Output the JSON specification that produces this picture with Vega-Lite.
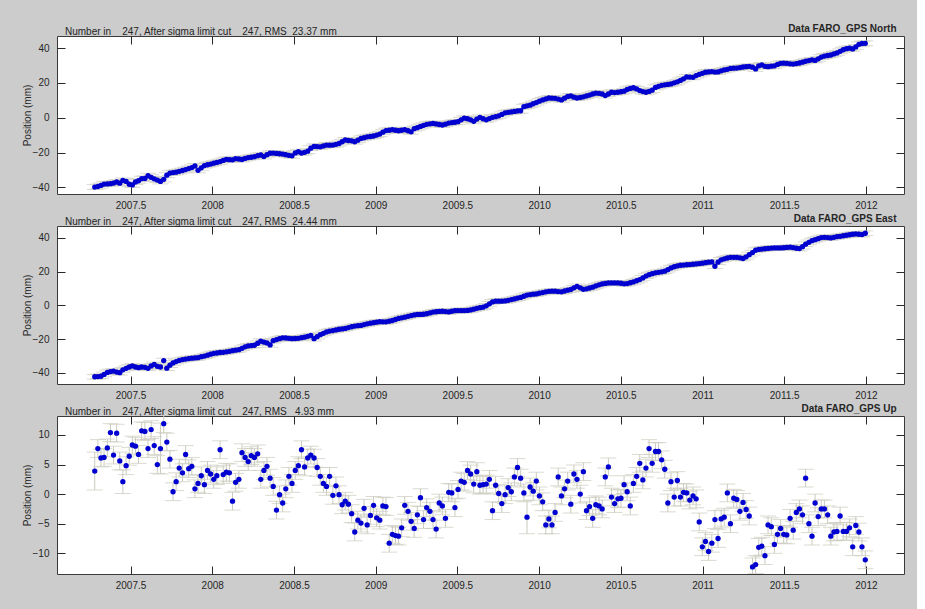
{
  "$schema": "https://vega.github.io/schema/vega-lite/v6.json",
  "background": "#cccccc",
  "padding": {"left": 21, "top": 23, "right": 12, "bottom": 24},
  "spacing": 32,
  "bounds": "flush",
  "config": {
    "font": "Liberation Sans",
    "view": {"stroke": "#3a3a3a", "strokeWidth": 1, "fill": "#ffffff"},
    "axis": {
      "domain": false, "grid": false, "tickColor": "#2a2a2a", "tickSize": -8,
      "labelFont": "Liberation Sans", "labelFontSize": 10, "labelColor": "#262626",
      "titleFont": "Liberation Sans", "titleFontSize": 10, "titleFontWeight": "normal", "titleColor": "#262626",
      "labelOverlap": false, "labelFlush": false
    },
    "title": {"font": "Liberation Sans", "fontSize": 10, "fontWeight": "normal", "color": "#262626"}
  },
  "data": {"values": [
{"t":2007.281,"n":-39.8,"e":-42.4,"u":3.9,"su":3.2,"sh":1.4},
{"t":2007.300,"n":-39.5,"e":-42.3,"u":7.7,"su":1.5,"sh":1.4},
{"t":2007.319,"n":-38.9,"e":-42.1,"u":6.1,"su":1.5,"sh":1.4},
{"t":2007.338,"n":-38.1,"e":-41.0,"u":6.2,"su":1.5,"sh":1.4},
{"t":2007.358,"n":-38.0,"e":-39.8,"u":7.8,"su":1.5,"sh":1.4},
{"t":2007.377,"n":-37.9,"e":-39.3,"u":10.4,"su":1.5,"sh":1.4},
{"t":2007.396,"n":-37.5,"e":-39.0,"u":6.6,"su":1.5,"sh":1.4},
{"t":2007.415,"n":-36.9,"e":-39.6,"u":10.3,"su":1.5,"sh":1.4},
{"t":2007.434,"n":-37.6,"e":-40.0,"u":5.6,"su":1.5,"sh":1.4},
{"t":2007.453,"n":-36.0,"e":-38.3,"u":2.1,"su":2.0,"sh":1.4},
{"t":2007.473,"n":-36.6,"e":-37.4,"u":4.8,"su":1.5,"sh":1.4},
{"t":2007.492,"n":-38.2,"e":-36.6,"u":6.4,"su":1.5,"sh":1.4},
{"t":2007.511,"n":-38.6,"e":-36.0,"u":8.3,"su":1.5,"sh":1.4},
{"t":2007.530,"n":-36.9,"e":-36.6,"u":8.1,"su":1.5,"sh":1.4},
{"t":2007.549,"n":-36.2,"e":-37.0,"u":6.7,"su":1.5,"sh":1.4},
{"t":2007.568,"n":-35.0,"e":-36.6,"u":10.7,"su":1.5,"sh":1.4},
{"t":2007.588,"n":-34.9,"e":-36.8,"u":10.6,"su":1.5,"sh":1.4},
{"t":2007.607,"n":-33.3,"e":-37.4,"u":7.7,"su":1.5,"sh":1.4},
{"t":2007.626,"n":-34.2,"e":-36.0,"u":10.9,"su":1.5,"sh":1.4},
{"t":2007.645,"n":-35.1,"e":-35.1,"u":8.2,"su":1.5,"sh":1.4},
{"t":2007.664,"n":-35.8,"e":-36.2,"u":5.0,"su":1.5,"sh":1.4},
{"t":2007.683,"n":-36.6,"e":-36.6,"u":7.7,"su":4.3,"sh":1.4},
{"t":2007.703,"n":-35.4,"e":-32.8,"u":11.9,"su":1.5,"sh":1.4},
{"t":2007.722,"n":-33.0,"e":-37.3,"u":8.8,"su":1.5,"sh":1.4},
{"t":2007.741,"n":-31.8,"e":-35.5,"u":5.9,"su":1.5,"sh":1.4},
{"t":2007.760,"n":-31.5,"e":-34.2,"u":0.4,"su":1.5,"sh":1.4},
{"t":2007.779,"n":-31.3,"e":-33.4,"u":2.1,"su":1.5,"sh":1.4},
{"t":2007.798,"n":-30.8,"e":-32.7,"u":4.4,"su":1.5,"sh":1.4},
{"t":2007.818,"n":-30.3,"e":-32.2,"u":3.6,"su":1.5,"sh":1.4},
{"t":2007.837,"n":-29.8,"e":-31.9,"u":6.7,"su":1.5,"sh":1.4},
{"t":2007.856,"n":-29.2,"e":-31.6,"u":4.3,"su":1.5,"sh":1.4},
{"t":2007.875,"n":-28.6,"e":-31.4,"u":4.7,"su":1.5,"sh":1.4},
{"t":2007.894,"n":-27.7,"e":-31.2,"u":0.9,"su":1.5,"sh":1.4},
{"t":2007.913,"n":-30.2,"e":-31.1,"u":1.8,"su":1.5,"sh":1.4},
{"t":2007.933,"n":-28.8,"e":-30.5,"u":3.1,"su":1.5,"sh":1.4},
{"t":2007.952,"n":-27.5,"e":-30.1,"u":1.6,"su":1.5,"sh":1.4},
{"t":2007.971,"n":-27.0,"e":-29.6,"u":4.0,"su":1.5,"sh":1.4},
{"t":2007.990,"n":-26.6,"e":-29.0,"u":3.4,"su":1.5,"sh":1.4},
{"t":2008.009,"n":-26.1,"e":-28.5,"u":2.5,"su":1.5,"sh":1.4},
{"t":2008.028,"n":-25.7,"e":-28.3,"u":3.1,"su":1.5,"sh":1.4},
{"t":2008.048,"n":-25.2,"e":-28.0,"u":7.5,"su":1.5,"sh":1.4},
{"t":2008.067,"n":-24.5,"e":-27.9,"u":3.3,"su":1.5,"sh":1.4},
{"t":2008.086,"n":-23.9,"e":-27.6,"u":3.7,"su":1.5,"sh":1.4},
{"t":2008.105,"n":-24.1,"e":-27.3,"u":3.6,"su":1.5,"sh":1.4},
{"t":2008.124,"n":-24.2,"e":-26.9,"u":-1.2,"su":1.5,"sh":1.4},
{"t":2008.143,"n":-23.5,"e":-26.6,"u":2.0,"su":1.5,"sh":1.4},
{"t":2008.163,"n":-23.7,"e":-26.3,"u":2.5,"su":1.5,"sh":1.4},
{"t":2008.182,"n":-24.0,"e":-25.5,"u":7.0,"su":1.5,"sh":1.4},
{"t":2008.201,"n":-23.4,"e":-24.6,"u":6.2,"su":1.5,"sh":1.4},
{"t":2008.220,"n":-22.9,"e":-24.1,"u":5.5,"su":1.5,"sh":1.4},
{"t":2008.239,"n":-22.7,"e":-23.9,"u":6.5,"su":1.5,"sh":1.4},
{"t":2008.258,"n":-22.4,"e":-23.7,"u":6.2,"su":1.5,"sh":1.4},
{"t":2008.278,"n":-21.8,"e":-22.5,"u":6.8,"su":1.5,"sh":1.4},
{"t":2008.297,"n":-21.4,"e":-21.3,"u":2.5,"su":1.5,"sh":1.4},
{"t":2008.316,"n":-22.3,"e":-21.8,"u":4.0,"su":1.5,"sh":1.4},
{"t":2008.335,"n":-21.2,"e":-22.3,"u":4.7,"su":1.5,"sh":1.4},
{"t":2008.354,"n":-20.4,"e":-23.5,"u":2.7,"su":1.5,"sh":1.4},
{"t":2008.373,"n":-20.3,"e":-21.0,"u":1.3,"su":1.5,"sh":1.4},
{"t":2008.393,"n":-20.5,"e":-20.3,"u":-2.7,"su":1.5,"sh":1.4},
{"t":2008.412,"n":-20.7,"e":-19.8,"u":-0.1,"su":1.5,"sh":1.4},
{"t":2008.431,"n":-20.9,"e":-19.3,"u":-1.5,"su":1.5,"sh":1.4},
{"t":2008.450,"n":-21.2,"e":-19.4,"u":0.9,"su":1.5,"sh":1.4},
{"t":2008.469,"n":-21.6,"e":-19.6,"u":3.0,"su":1.5,"sh":1.4},
{"t":2008.488,"n":-21.9,"e":-19.8,"u":1.8,"su":1.5,"sh":1.4},
{"t":2008.508,"n":-20.2,"e":-19.7,"u":4.0,"su":1.5,"sh":1.4},
{"t":2008.527,"n":-19.5,"e":-19.6,"u":4.8,"su":1.5,"sh":1.4},
{"t":2008.546,"n":-20.3,"e":-19.2,"u":7.5,"su":1.5,"sh":1.4},
{"t":2008.565,"n":-19.9,"e":-18.9,"u":4.6,"su":1.5,"sh":1.4},
{"t":2008.584,"n":-19.2,"e":-18.4,"u":6.1,"su":1.5,"sh":1.4},
{"t":2008.603,"n":-17.5,"e":-17.9,"u":6.6,"su":1.5,"sh":1.4},
{"t":2008.623,"n":-16.5,"e":-19.8,"u":6.1,"su":1.5,"sh":1.4},
{"t":2008.642,"n":-16.6,"e":-18.6,"u":4.5,"su":1.5,"sh":1.4},
{"t":2008.661,"n":-16.7,"e":-17.4,"u":3.0,"su":1.5,"sh":1.4},
{"t":2008.680,"n":-16.2,"e":-16.6,"u":1.8,"su":1.5,"sh":1.4},
{"t":2008.699,"n":-15.7,"e":-15.8,"u":1.3,"su":1.5,"sh":1.4},
{"t":2008.718,"n":-15.8,"e":-15.3,"u":3.0,"su":1.5,"sh":1.4},
{"t":2008.738,"n":-15.7,"e":-15.0,"u":-0.2,"su":1.5,"sh":1.4},
{"t":2008.757,"n":-15.3,"e":-14.6,"u":1.4,"su":1.5,"sh":1.4},
{"t":2008.776,"n":-14.8,"e":-14.2,"u":-0.1,"su":1.5,"sh":1.4},
{"t":2008.795,"n":-13.8,"e":-14.0,"u":-1.8,"su":1.5,"sh":1.4},
{"t":2008.814,"n":-12.8,"e":-13.7,"u":-1.2,"su":1.5,"sh":1.4},
{"t":2008.833,"n":-13.1,"e":-13.2,"u":-1.7,"su":1.5,"sh":1.4},
{"t":2008.853,"n":-13.3,"e":-12.7,"u":-3.3,"su":1.5,"sh":1.4},
{"t":2008.872,"n":-13.8,"e":-12.3,"u":-6.4,"su":1.5,"sh":1.4},
{"t":2008.891,"n":-12.9,"e":-12.1,"u":-4.4,"su":1.5,"sh":1.4},
{"t":2008.910,"n":-11.9,"e":-11.9,"u":-4.9,"su":1.5,"sh":1.4},
{"t":2008.929,"n":-11.5,"e":-11.4,"u":-2.4,"su":1.5,"sh":1.4},
{"t":2008.948,"n":-11.0,"e":-11.0,"u":-5.2,"su":1.5,"sh":1.4},
{"t":2008.968,"n":-10.8,"e":-10.6,"u":-3.6,"su":1.5,"sh":1.4},
{"t":2008.987,"n":-10.5,"e":-10.3,"u":-1.9,"su":1.5,"sh":1.4},
{"t":2009.006,"n":-10.0,"e":-10.0,"u":-4.0,"su":1.5,"sh":1.4},
{"t":2009.025,"n":-9.4,"e":-9.7,"u":-4.4,"su":1.5,"sh":1.4},
{"t":2009.044,"n":-8.3,"e":-9.8,"u":-2.0,"su":1.5,"sh":1.4},
{"t":2009.063,"n":-7.4,"e":-9.8,"u":-2.1,"su":1.5,"sh":1.4},
{"t":2009.083,"n":-7.2,"e":-9.4,"u":-8.3,"su":1.5,"sh":1.4},
{"t":2009.102,"n":-6.9,"e":-9.0,"u":-6.8,"su":1.5,"sh":1.4},
{"t":2009.121,"n":-7.2,"e":-8.4,"u":-7.0,"su":1.5,"sh":1.4},
{"t":2009.140,"n":-7.5,"e":-7.8,"u":-7.1,"su":1.5,"sh":1.4},
{"t":2009.159,"n":-7.2,"e":-7.4,"u":-5.7,"su":1.5,"sh":1.4},
{"t":2009.178,"n":-6.9,"e":-7.0,"u":-1.9,"su":1.5,"sh":1.4},
{"t":2009.198,"n":-7.5,"e":-6.5,"u":-2.9,"su":1.5,"sh":1.4},
{"t":2009.217,"n":-8.1,"e":-6.1,"u":-4.6,"su":1.5,"sh":1.4},
{"t":2009.236,"n":-6.3,"e":-5.7,"u":-5.8,"su":1.5,"sh":1.4},
{"t":2009.255,"n":-5.7,"e":-5.4,"u":-3.5,"su":1.5,"sh":1.4},
{"t":2009.274,"n":-5.0,"e":-5.4,"u":-0.6,"su":1.5,"sh":1.4},
{"t":2009.293,"n":-4.4,"e":-5.3,"u":-4.3,"su":1.5,"sh":1.4},
{"t":2009.312,"n":-3.8,"e":-5.0,"u":-2.3,"su":1.5,"sh":1.4},
{"t":2009.332,"n":-3.5,"e":-4.5,"u":-2.9,"su":1.5,"sh":1.4},
{"t":2009.351,"n":-3.3,"e":-4.0,"u":-4.3,"su":1.5,"sh":1.4},
{"t":2009.370,"n":-3.6,"e":-3.8,"u":-5.9,"su":1.5,"sh":1.4},
{"t":2009.389,"n":-3.9,"e":-3.6,"u":-1.5,"su":1.5,"sh":1.4},
{"t":2009.408,"n":-4.2,"e":-3.5,"u":-2.0,"su":1.5,"sh":1.4},
{"t":2009.427,"n":-3.7,"e":-3.7,"u":-4.1,"su":1.5,"sh":1.4},
{"t":2009.447,"n":-3.1,"e":-3.9,"u":0.3,"su":1.5,"sh":1.4},
{"t":2009.466,"n":-2.8,"e":-3.5,"u":0.2,"su":1.5,"sh":1.4},
{"t":2009.485,"n":-2.6,"e":-3.2,"u":-2.3,"su":1.5,"sh":1.4},
{"t":2009.504,"n":-2.3,"e":-3.1,"u":0.8,"su":1.5,"sh":1.4},
{"t":2009.523,"n":-1.2,"e":-3.1,"u":2.2,"su":1.5,"sh":1.4},
{"t":2009.542,"n":-0.3,"e":-3.1,"u":2.0,"su":1.5,"sh":1.4},
{"t":2009.562,"n":-0.6,"e":-3.0,"u":4.0,"su":1.5,"sh":1.4},
{"t":2009.581,"n":-1.2,"e":-2.7,"u":3.4,"su":1.5,"sh":1.4},
{"t":2009.600,"n":-2.1,"e":-2.3,"u":1.7,"su":1.5,"sh":1.4},
{"t":2009.619,"n":-0.8,"e":-1.8,"u":3.8,"su":1.5,"sh":1.4},
{"t":2009.638,"n":0.2,"e":-1.4,"u":1.5,"su":1.5,"sh":1.4},
{"t":2009.657,"n":-0.6,"e":-1.1,"u":1.6,"su":1.5,"sh":1.4},
{"t":2009.677,"n":-1.2,"e":-0.3,"u":1.7,"su":1.5,"sh":1.4},
{"t":2009.696,"n":-0.5,"e":0.9,"u":2.5,"su":1.5,"sh":1.4},
{"t":2009.715,"n":0.2,"e":2.0,"u":-2.8,"su":1.5,"sh":1.4},
{"t":2009.734,"n":0.6,"e":2.5,"u":1.5,"su":1.5,"sh":1.4},
{"t":2009.753,"n":1.1,"e":2.5,"u":0.1,"su":1.5,"sh":1.4},
{"t":2009.772,"n":1.9,"e":2.5,"u":-1.6,"su":1.5,"sh":1.4},
{"t":2009.792,"n":2.8,"e":2.6,"u":-0.1,"su":1.5,"sh":1.4},
{"t":2009.811,"n":3.1,"e":3.0,"u":1.1,"su":1.5,"sh":1.4},
{"t":2009.830,"n":3.3,"e":3.4,"u":0.4,"su":1.5,"sh":1.4},
{"t":2009.849,"n":3.6,"e":3.8,"u":2.9,"su":1.5,"sh":1.4},
{"t":2009.868,"n":3.9,"e":4.3,"u":4.5,"su":1.5,"sh":1.4},
{"t":2009.887,"n":4.0,"e":4.7,"u":2.7,"su":1.5,"sh":1.4},
{"t":2009.907,"n":6.3,"e":5.4,"u":0.2,"su":1.5,"sh":1.4},
{"t":2009.926,"n":6.8,"e":6.1,"u":-3.9,"su":2.8,"sh":1.4},
{"t":2009.945,"n":7.2,"e":6.4,"u":1.2,"su":1.5,"sh":1.4},
{"t":2009.964,"n":8.0,"e":6.6,"u":0.5,"su":1.5,"sh":1.4},
{"t":2009.983,"n":8.7,"e":6.8,"u":2.2,"su":1.5,"sh":1.4},
{"t":2010.002,"n":9.5,"e":7.2,"u":-0.3,"su":1.5,"sh":1.4},
{"t":2010.022,"n":10.2,"e":7.6,"u":-1.3,"su":1.5,"sh":1.4},
{"t":2010.041,"n":10.8,"e":8.0,"u":-5.2,"su":1.5,"sh":1.4},
{"t":2010.060,"n":11.3,"e":8.3,"u":-4.2,"su":1.5,"sh":1.4},
{"t":2010.079,"n":11.2,"e":8.4,"u":-5.2,"su":1.5,"sh":1.4},
{"t":2010.098,"n":11.1,"e":8.4,"u":-3.1,"su":1.5,"sh":1.4},
{"t":2010.117,"n":10.7,"e":8.2,"u":2.9,"su":1.5,"sh":1.4},
{"t":2010.137,"n":10.2,"e":8.0,"u":-0.3,"su":1.5,"sh":1.4},
{"t":2010.156,"n":11.2,"e":8.5,"u":0.9,"su":1.5,"sh":1.4},
{"t":2010.175,"n":12.2,"e":9.0,"u":2.2,"su":1.5,"sh":1.4},
{"t":2010.194,"n":12.5,"e":9.4,"u":-1.7,"su":1.5,"sh":1.4},
{"t":2010.213,"n":11.8,"e":10.4,"u":3.4,"su":1.5,"sh":1.4},
{"t":2010.232,"n":11.3,"e":11.3,"u":2.5,"su":1.5,"sh":1.4},
{"t":2010.252,"n":11.6,"e":10.4,"u":0.0,"su":1.5,"sh":1.4},
{"t":2010.271,"n":12.0,"e":9.5,"u":3.8,"su":1.5,"sh":1.4},
{"t":2010.290,"n":12.5,"e":9.8,"u":-2.8,"su":1.5,"sh":1.4},
{"t":2010.309,"n":13.0,"e":10.3,"u":-2.1,"su":1.5,"sh":1.4},
{"t":2010.328,"n":13.6,"e":10.8,"u":-4.1,"su":1.5,"sh":1.4},
{"t":2010.347,"n":14.1,"e":11.5,"u":-1.8,"su":1.5,"sh":1.4},
{"t":2010.367,"n":14.0,"e":12.2,"u":-2.0,"su":1.5,"sh":1.4},
{"t":2010.386,"n":13.6,"e":12.7,"u":-2.5,"su":1.5,"sh":1.4},
{"t":2010.405,"n":12.7,"e":13.0,"u":2.9,"su":1.5,"sh":1.4},
{"t":2010.424,"n":13.6,"e":13.3,"u":4.6,"su":1.5,"sh":1.4},
{"t":2010.443,"n":14.6,"e":13.3,"u":-0.5,"su":1.5,"sh":1.4},
{"t":2010.462,"n":14.4,"e":13.3,"u":-1.6,"su":1.5,"sh":1.4},
{"t":2010.482,"n":14.6,"e":13.3,"u":-0.8,"su":1.5,"sh":1.4},
{"t":2010.501,"n":14.9,"e":13.1,"u":-0.7,"su":1.5,"sh":1.4},
{"t":2010.520,"n":15.2,"e":12.8,"u":1.6,"su":1.5,"sh":1.4},
{"t":2010.539,"n":16.2,"e":12.9,"u":0.4,"su":1.5,"sh":1.4},
{"t":2010.558,"n":16.8,"e":13.4,"u":-2.0,"su":1.5,"sh":1.4},
{"t":2010.577,"n":17.2,"e":13.9,"u":1.8,"su":1.5,"sh":1.4},
{"t":2010.597,"n":16.5,"e":14.6,"u":3.0,"su":1.5,"sh":1.4},
{"t":2010.616,"n":15.6,"e":15.3,"u":5.2,"su":1.5,"sh":1.4},
{"t":2010.635,"n":15.0,"e":16.3,"u":2.4,"su":1.5,"sh":1.4},
{"t":2010.654,"n":14.6,"e":17.4,"u":4.4,"su":1.5,"sh":1.4},
{"t":2010.673,"n":15.1,"e":18.2,"u":7.7,"su":1.5,"sh":1.4},
{"t":2010.692,"n":15.8,"e":18.8,"u":5.2,"su":1.5,"sh":1.4},
{"t":2010.712,"n":17.4,"e":19.3,"u":7.2,"su":1.5,"sh":1.4},
{"t":2010.731,"n":18.0,"e":19.6,"u":7.2,"su":1.5,"sh":1.4},
{"t":2010.750,"n":18.6,"e":19.9,"u":5.8,"su":1.5,"sh":1.4},
{"t":2010.769,"n":18.9,"e":20.3,"u":4.2,"su":1.5,"sh":1.4},
{"t":2010.788,"n":19.1,"e":21.2,"u":-1.5,"su":1.5,"sh":1.4},
{"t":2010.807,"n":19.4,"e":22.2,"u":2.1,"su":1.5,"sh":1.4},
{"t":2010.827,"n":20.0,"e":22.9,"u":-0.5,"su":1.5,"sh":1.4},
{"t":2010.846,"n":20.6,"e":23.4,"u":2.3,"su":1.5,"sh":1.4},
{"t":2010.865,"n":21.4,"e":23.8,"u":-0.5,"su":1.5,"sh":1.4},
{"t":2010.884,"n":22.3,"e":23.9,"u":0.3,"su":1.5,"sh":1.4},
{"t":2010.903,"n":23.4,"e":24.1,"u":0.2,"su":1.5,"sh":1.4},
{"t":2010.922,"n":23.3,"e":24.2,"u":-1.0,"su":1.5,"sh":1.4},
{"t":2010.942,"n":23.2,"e":24.4,"u":-0.3,"su":1.5,"sh":1.4},
{"t":2010.961,"n":24.2,"e":24.6,"u":-0.8,"su":1.5,"sh":1.4},
{"t":2010.980,"n":24.9,"e":24.8,"u":-4.7,"su":1.5,"sh":1.4},
{"t":2010.999,"n":25.5,"e":25.0,"u":-8.9,"su":1.5,"sh":1.4},
{"t":2011.018,"n":26.1,"e":25.3,"u":-8.0,"su":1.5,"sh":1.4},
{"t":2011.037,"n":26.3,"e":25.6,"u":-9.7,"su":1.5,"sh":1.4},
{"t":2011.057,"n":26.5,"e":25.8,"u":-8.3,"su":1.5,"sh":1.4},
{"t":2011.076,"n":26.2,"e":23.2,"u":-4.3,"su":1.5,"sh":1.4},
{"t":2011.095,"n":26.3,"e":25.6,"u":-7.5,"su":1.5,"sh":1.4},
{"t":2011.114,"n":26.9,"e":27.0,"u":-4.2,"su":1.5,"sh":1.4},
{"t":2011.133,"n":27.4,"e":27.6,"u":-3.9,"su":1.5,"sh":1.4},
{"t":2011.152,"n":27.8,"e":28.1,"u":0.2,"su":1.5,"sh":1.4},
{"t":2011.171,"n":28.3,"e":28.5,"u":-5.0,"su":1.5,"sh":1.4},
{"t":2011.191,"n":28.4,"e":28.5,"u":-0.7,"su":1.5,"sh":1.4},
{"t":2011.210,"n":28.5,"e":28.5,"u":-0.9,"su":1.5,"sh":1.4},
{"t":2011.229,"n":28.8,"e":28.2,"u":-2.9,"su":1.5,"sh":1.4},
{"t":2011.248,"n":29.1,"e":27.8,"u":-1.4,"su":1.5,"sh":1.4},
{"t":2011.267,"n":29.3,"e":28.8,"u":-2.6,"su":1.5,"sh":1.4},
{"t":2011.286,"n":29.5,"e":30.1,"u":-3.7,"su":1.5,"sh":1.4},
{"t":2011.306,"n":29.0,"e":31.3,"u":-12.3,"su":1.5,"sh":1.4},
{"t":2011.325,"n":28.0,"e":32.7,"u":-11.9,"su":1.5,"sh":1.4},
{"t":2011.344,"n":29.8,"e":33.2,"u":-9.0,"su":1.5,"sh":1.4},
{"t":2011.363,"n":30.3,"e":33.4,"u":-8.8,"su":1.5,"sh":1.4},
{"t":2011.382,"n":29.5,"e":33.6,"u":-10.4,"su":1.5,"sh":1.4},
{"t":2011.401,"n":29.3,"e":33.8,"u":-5.2,"su":1.5,"sh":1.4},
{"t":2011.421,"n":29.6,"e":34.0,"u":-5.5,"su":1.5,"sh":1.4},
{"t":2011.440,"n":29.8,"e":34.1,"u":-8.5,"su":1.5,"sh":1.4},
{"t":2011.459,"n":30.6,"e":34.1,"u":-6.8,"su":1.5,"sh":1.4},
{"t":2011.478,"n":31.2,"e":34.1,"u":-5.8,"su":1.5,"sh":1.4},
{"t":2011.497,"n":31.3,"e":34.2,"u":-6.8,"su":1.5,"sh":1.4},
{"t":2011.516,"n":31.2,"e":34.4,"u":-6.9,"su":1.5,"sh":1.4},
{"t":2011.536,"n":30.9,"e":34.5,"u":-4.1,"su":1.5,"sh":1.4},
{"t":2011.555,"n":30.8,"e":34.3,"u":-6.1,"su":1.5,"sh":1.4},
{"t":2011.574,"n":31.1,"e":33.9,"u":-3.1,"su":1.5,"sh":1.4},
{"t":2011.593,"n":31.4,"e":33.7,"u":-2.5,"su":1.5,"sh":1.4},
{"t":2011.612,"n":31.9,"e":34.8,"u":-3.5,"su":1.5,"sh":1.4},
{"t":2011.631,"n":32.4,"e":36.3,"u":2.7,"su":1.5,"sh":1.4},
{"t":2011.651,"n":32.8,"e":37.4,"u":-5.0,"su":1.5,"sh":1.4},
{"t":2011.670,"n":33.2,"e":38.4,"u":-7.1,"su":1.5,"sh":1.4},
{"t":2011.689,"n":32.9,"e":39.0,"u":-1.5,"su":1.5,"sh":1.4},
{"t":2011.708,"n":33.8,"e":39.6,"u":-3.8,"su":1.5,"sh":1.4},
{"t":2011.727,"n":34.8,"e":40.2,"u":-2.5,"su":1.5,"sh":1.4},
{"t":2011.746,"n":35.4,"e":40.4,"u":-2.5,"su":1.5,"sh":1.4},
{"t":2011.766,"n":35.7,"e":40.2,"u":-3.5,"su":1.5,"sh":1.4},
{"t":2011.785,"n":36.0,"e":40.0,"u":-7.1,"su":1.5,"sh":1.4},
{"t":2011.804,"n":36.6,"e":40.4,"u":-6.4,"su":1.5,"sh":1.4},
{"t":2011.823,"n":37.2,"e":40.8,"u":-6.3,"su":1.5,"sh":1.4},
{"t":2011.842,"n":38.1,"e":41.0,"u":-3.7,"su":1.5,"sh":1.4},
{"t":2011.861,"n":39.0,"e":41.3,"u":-6.3,"su":1.5,"sh":1.4},
{"t":2011.881,"n":39.6,"e":41.6,"u":-6.3,"su":1.5,"sh":1.4},
{"t":2011.900,"n":39.9,"e":41.9,"u":-5.7,"su":1.5,"sh":1.4},
{"t":2011.919,"n":39.5,"e":42.2,"u":-8.9,"su":1.5,"sh":1.4},
{"t":2011.938,"n":40.6,"e":42.4,"u":-5.3,"su":1.5,"sh":1.4},
{"t":2011.957,"n":42.1,"e":42.2,"u":-6.4,"su":1.5,"sh":1.4},
{"t":2011.976,"n":42.6,"e":42.0,"u":-8.9,"su":1.5,"sh":1.4},
{"t":2011.996,"n":42.7,"e":42.8,"u":-11.1,"su":1.5,"sh":1.4}
  ]},
  "vconcat": [
    {
      "width": 847, "height": 158,
      "title": {"text": "Number in\u00a0\u00a0\u00a0 247, After sigma limit cut\u00a0\u00a0\u00a0 247, RMS\u00a0 23.37 mm", "anchor": "start", "frame": "group", "dx": 8, "dy": 13, "offset": 0},
      "layer": [
        {
          "mark": {"type": "errorbar", "clip": true, "ticks": {"size": 16, "color": "#cacabe"}, "rule": {"color": "#cacabe", "strokeWidth": 1}},
          "encoding": {
            "x": {"field": "t", "type": "quantitative", "scale": {"domain": [2007.05, 2012.233], "nice": false, "zero": false},
                  "axis": {"orient": "bottom", "values": [2007.5, 2008, 2008.5, 2009, 2009.5, 2010, 2010.5, 2011, 2011.5, 2012], "format": "~g", "labelPadding": 14, "title": null}},
            "y": {"field": "n", "type": "quantitative", "scale": {"domain": [-43.8, 46.9], "nice": false, "zero": false},
                  "axis": {"orient": "left", "values": [-40, -20, 0, 20, 40], "labelPadding": 16, "title": "Position (mm)", "titlePadding": 0}},
            "yError": {"field": "sh"}
          }
        },
        {
          "mark": {"type": "circle", "size": 28, "color": "#0000d0", "opacity": 1},
          "encoding": {
            "x": {"field": "t", "type": "quantitative",
                  "axis": {"orient": "top", "values": [2007.5, 2008, 2008.5, 2009, 2009.5, 2010, 2010.5, 2011, 2011.5, 2012], "labels": false, "title": "Data FARO_GPS North", "titleFontWeight": "bold", "titleAlign": "right", "titleX": 839, "titlePadding": 2}},
            "y": {"field": "n", "type": "quantitative",
                  "axis": {"orient": "right", "values": [-40, -20, 0, 20, 40], "labels": false, "title": null}}
          }
        }
      ],
      "resolve": {"axis": {"x": "independent", "y": "independent"}}
    },
    {
      "width": 847, "height": 158,
      "title": {"text": "Number in\u00a0\u00a0\u00a0 247, After sigma limit cut\u00a0\u00a0\u00a0 247, RMS\u00a0 24.44 mm", "anchor": "start", "frame": "group", "dx": 8, "dy": 13, "offset": 0},
      "layer": [
        {
          "mark": {"type": "errorbar", "clip": true, "ticks": {"size": 16, "color": "#cacabe"}, "rule": {"color": "#cacabe", "strokeWidth": 1}},
          "encoding": {
            "x": {"field": "t", "type": "quantitative", "scale": {"domain": [2007.05, 2012.233], "nice": false, "zero": false},
                  "axis": {"orient": "bottom", "values": [2007.5, 2008, 2008.5, 2009, 2009.5, 2010, 2010.5, 2011, 2011.5, 2012], "format": "~g", "labelPadding": 14, "title": null}},
            "y": {"field": "e", "type": "quantitative", "scale": {"domain": [-46.7, 47.1], "nice": false, "zero": false},
                  "axis": {"orient": "left", "values": [-40, -20, 0, 20, 40], "labelPadding": 16, "title": "Position (mm)", "titlePadding": 0}},
            "yError": {"field": "sh"}
          }
        },
        {
          "mark": {"type": "circle", "size": 28, "color": "#0000d0", "opacity": 1},
          "encoding": {
            "x": {"field": "t", "type": "quantitative",
                  "axis": {"orient": "top", "values": [2007.5, 2008, 2008.5, 2009, 2009.5, 2010, 2010.5, 2011, 2011.5, 2012], "labels": false, "title": "Data FARO_GPS East", "titleFontWeight": "bold", "titleAlign": "right", "titleX": 839, "titlePadding": 2}},
            "y": {"field": "e", "type": "quantitative",
                  "axis": {"orient": "right", "values": [-40, -20, 0, 20, 40], "labels": false, "title": null}}
          }
        }
      ],
      "resolve": {"axis": {"x": "independent", "y": "independent"}}
    },
    {
      "width": 847, "height": 158,
      "title": {"text": "Number in\u00a0\u00a0\u00a0 247, After sigma limit cut\u00a0\u00a0\u00a0 247, RMS\u00a0\u00a0 4.93 mm", "anchor": "start", "frame": "group", "dx": 8, "dy": 13, "offset": 0},
      "layer": [
        {
          "mark": {"type": "errorbar", "clip": true, "ticks": {"size": 16, "color": "#cacabe"}, "rule": {"color": "#cacabe", "strokeWidth": 1}},
          "encoding": {
            "x": {"field": "t", "type": "quantitative", "scale": {"domain": [2007.05, 2012.233], "nice": false, "zero": false},
                  "axis": {"orient": "bottom", "values": [2007.5, 2008, 2008.5, 2009, 2009.5, 2010, 2010.5, 2011, 2011.5, 2012], "format": "~g", "labelPadding": 14, "title": null}},
            "y": {"field": "u", "type": "quantitative", "scale": {"domain": [-13.5, 13.2], "nice": false, "zero": false},
                  "axis": {"orient": "left", "values": [-10, -5, 0, 5, 10], "labelPadding": 16, "title": "Position (mm)", "titlePadding": 0}},
            "yError": {"field": "su"}
          }
        },
        {
          "mark": {"type": "circle", "size": 28, "color": "#0000d0", "opacity": 1},
          "encoding": {
            "x": {"field": "t", "type": "quantitative",
                  "axis": {"orient": "top", "values": [2007.5, 2008, 2008.5, 2009, 2009.5, 2010, 2010.5, 2011, 2011.5, 2012], "labels": false, "title": "Data FARO_GPS Up", "titleFontWeight": "bold", "titleAlign": "right", "titleX": 839, "titlePadding": 2}},
            "y": {"field": "u", "type": "quantitative",
                  "axis": {"orient": "right", "values": [-10, -5, 0, 5, 10], "labels": false, "title": null}}
          }
        }
      ],
      "resolve": {"axis": {"x": "independent", "y": "independent"}}
    }
  ]
}
